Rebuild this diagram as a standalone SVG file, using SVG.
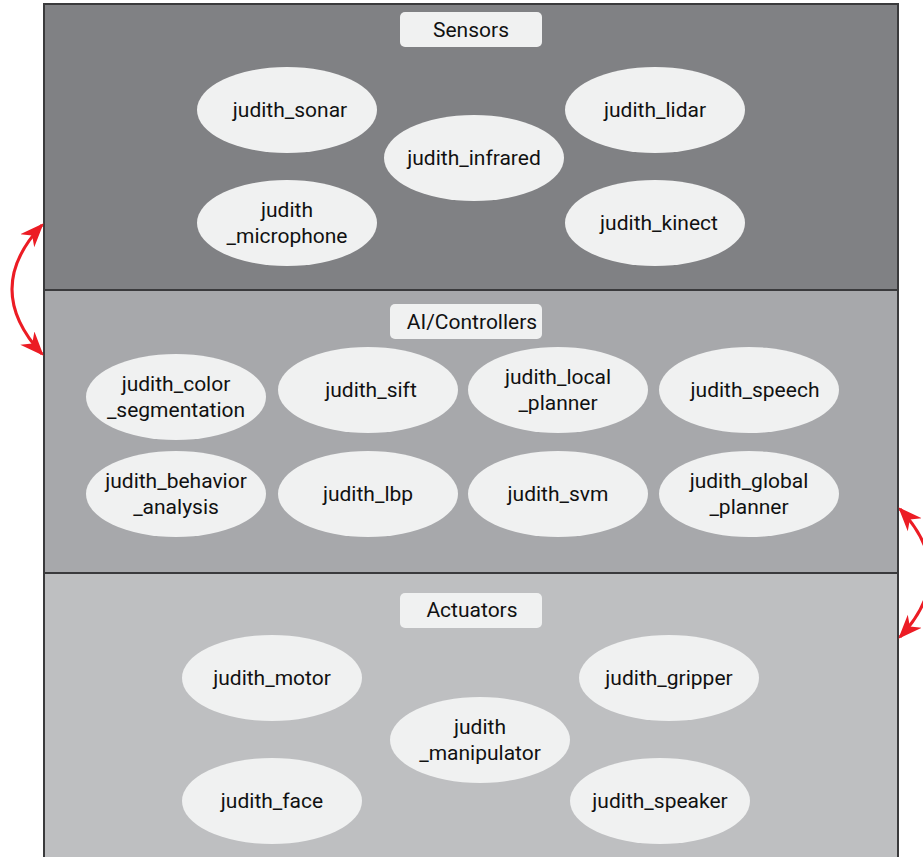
<svg xmlns="http://www.w3.org/2000/svg" width="923" height="857" viewBox="0 0 923 857">
<defs>
<style>
.layer{stroke:#3a3a3c;stroke-width:2}
.title{fill:#f0f1f1;stroke:none}
.node{fill:#f0f1f1;stroke:none}
text{font-family:Roboto,"Liberation Sans",sans-serif;font-size:21px;fill:#111;text-anchor:middle}
.conn{fill:none;stroke:#ec1c24;stroke-width:3}
</style>
<marker id="ah" viewBox="0 0 10 10" refX="9" refY="5" markerWidth="24" markerHeight="24" markerUnits="userSpaceOnUse" orient="auto-start-reverse">
<path d="M0,1 L10,5 L0,9 L3,5 z" fill="#ec1c24"/>
</marker>
</defs>
<rect width="923" height="857" fill="#ffffff"/>
<g id="layer-sensors">
<rect class="layer" x="44" y="4" width="854" height="286" fill="#808184"/>
<rect class="title" x="400" y="12" width="142" height="35" rx="5"/>
<text x="471" y="37">Sensors</text>
</g>
<g id="layer-ai">
<rect class="layer" x="44" y="290" width="854" height="283" fill="#a7a8ab"/>
<rect class="title" x="390" y="304" width="152" height="35" rx="5"/>
<text x="472" y="329">AI/Controllers</text>
</g>
<g id="layer-actuators">
<rect class="layer" x="44" y="573" width="854" height="290" fill="#bebfc1"/>
<rect class="title" x="400" y="593" width="142" height="35" rx="5"/>
<text x="472" y="617">Actuators</text>
</g>
<g id="judith_sonar"><ellipse class="node" cx="287" cy="110" rx="90" ry="43"/><text x="290" y="117">judith_sonar</text></g>
<g id="judith_lidar"><ellipse class="node" cx="655" cy="110" rx="90" ry="43"/><text x="655" y="117">judith_lidar</text></g>
<g id="judith_infrared"><ellipse class="node" cx="474" cy="158" rx="90" ry="43"/><text x="474" y="165">judith_infrared</text></g>
<g id="judith_microphone"><ellipse class="node" cx="287" cy="223" rx="90" ry="43"/><text x="287" y="217">judith</text><text x="287" y="243">_microphone</text></g>
<g id="judith_kinect"><ellipse class="node" cx="655" cy="223" rx="90" ry="43"/><text x="659" y="230">judith_kinect</text></g>
<g id="judith_color_segmentation"><ellipse class="node" cx="176" cy="397" rx="90" ry="43"/><text x="176" y="391">judith_color</text><text x="176" y="417">_segmentation</text></g>
<g id="judith_sift"><ellipse class="node" cx="368" cy="390" rx="90" ry="43"/><text x="371" y="397">judith_sift</text></g>
<g id="judith_local_planner"><ellipse class="node" cx="558" cy="390" rx="90" ry="43"/><text x="558" y="384">judith_local</text><text x="558" y="410">_planner</text></g>
<g id="judith_speech"><ellipse class="node" cx="749" cy="390" rx="90" ry="43"/><text x="755" y="397">judith_speech</text></g>
<g id="judith_behavior_analysis"><ellipse class="node" cx="176" cy="494" rx="90" ry="43"/><text x="176" y="488">judith_behavior</text><text x="176" y="514">_analysis</text></g>
<g id="judith_lbp"><ellipse class="node" cx="368" cy="494" rx="90" ry="43"/><text x="368" y="501">judith_lbp</text></g>
<g id="judith_svm"><ellipse class="node" cx="558" cy="494" rx="90" ry="43"/><text x="558" y="501">judith_svm</text></g>
<g id="judith_global_planner"><ellipse class="node" cx="749" cy="494" rx="90" ry="43"/><text x="749" y="488">judith_global</text><text x="749" y="514">_planner</text></g>
<g id="judith_motor"><ellipse class="node" cx="272" cy="678" rx="90" ry="43"/><text x="272" y="685">judith_motor</text></g>
<g id="judith_gripper"><ellipse class="node" cx="669" cy="678" rx="90" ry="43"/><text x="669" y="685">judith_gripper</text></g>
<g id="judith_manipulator"><ellipse class="node" cx="480" cy="740" rx="90" ry="43"/><text x="480" y="734">judith</text><text x="480" y="760">_manipulator</text></g>
<g id="judith_face"><ellipse class="node" cx="272" cy="801" rx="90" ry="43"/><text x="272" y="808">judith_face</text></g>
<g id="judith_speaker"><ellipse class="node" cx="660" cy="801" rx="90" ry="43"/><text x="660" y="808">judith_speaker</text></g>
<g id="connectors">
<path class="conn" d="M42,225 Q-18,289 42,354" marker-start="url(#ah)" marker-end="url(#ah)"/>
<path class="conn" d="M900,509 Q960,573 900,637" marker-start="url(#ah)" marker-end="url(#ah)"/>
</g>
</svg>
